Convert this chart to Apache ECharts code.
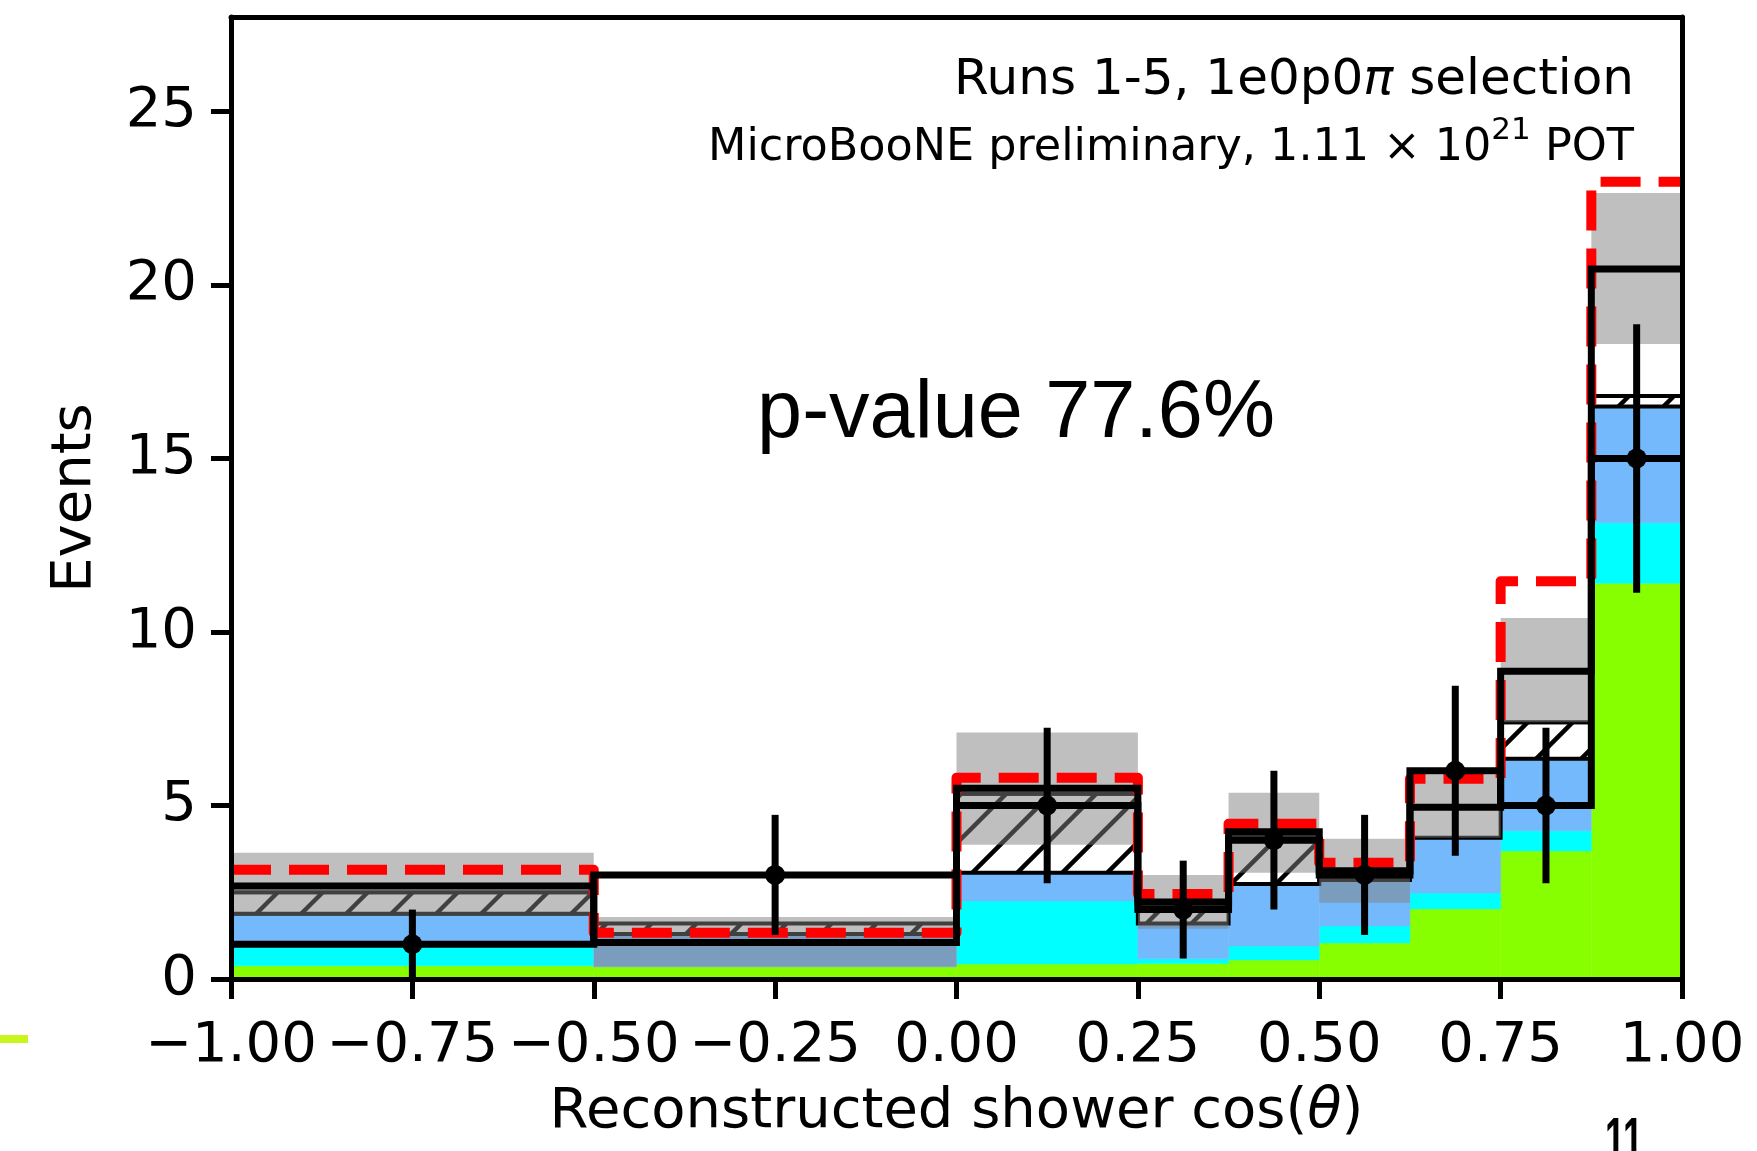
<!DOCTYPE html>
<html>
<head>
<meta charset="utf-8">
<script src="https://cdn.jsdelivr.net/npm/echarts@6/dist/echarts.min.js"></script>
<style>
  html, body { margin: 0; padding: 0; background: #fff; }
  #chart { width: 1757px; height: 1151px; }
</style>
</head>
<body>
<div id="chart"></div>
<script>
// Bin edges of the reconstructed shower cos(theta) histogram
const binEdges = [-1, -0.5, 0, 0.25, 0.375, 0.5, 0.625, 0.75, 0.875, 1];
const binCenters = [-0.75, -0.25, 0.125, 0.3125, 0.4375, 0.5625, 0.6875, 0.8125, 0.9375];

// Stacked prediction components (per-bin heights)
const compGreen = [0.38, 0.35, 0.43, 0.45, 0.55, 1.04, 2.02, 3.69, 11.40];
const compCyan  = [0.67, 0.00, 1.82, 0.13, 0.40, 0.49, 0.46, 0.58, 1.75];
const compBlue  = [0.83, 0.95, 0.81, 1.02, 1.79, 1.32, 1.59, 2.08, 3.35];
const compHatch = [0.62, 0.30, 2.28, 0.50, 1.39, 0.25, 0.00, 1.05, 0.30];
const compPlain = [0.18, 0.00, 0.16, 0.12, 0.11, 0.00, 0.88, 1.47, 0.00];

// Total prediction with its uncertainty band
const predTotal = [2.68, 1.05, 5.50, 2.22, 4.24, 3.12, 4.95, 8.87, 20.46];
const bandLow   = [1.82, 0.35, 3.87, 1.45, 3.06, 2.20, 4.07, 7.40, 18.30];
const bandHigh  = [3.64, 1.79, 7.10, 3.00, 5.37, 4.04, 5.90, 10.40, 22.65];

// Alternative prediction (red dashed)
const altPred = [3.15, 1.33, 5.80, 2.45, 4.47, 3.35, 5.77, 11.46, 22.97];

// Observed events and their errors
const dataCounts = [1, 3, 5, 2, 4, 3, 6, 5, 15];
const dataErr    = [1.00, 1.73, 2.24, 1.41, 2.00, 1.73, 2.45, 2.24, 3.87];

const xTicks = [-1, -0.75, -0.5, -0.25, 0, 0.25, 0.5, 0.75, 1];
const yTicks = [0, 5, 10, 15, 20, 25];
const yMax = 27.72;

const FONT = '"DejaVu Sans", "Liberation Sans", sans-serif';

function stepData(vals) {
  const pts = vals.map((v, i) => [binEdges[i], v]);
  pts.push([binEdges[binEdges.length - 1], vals[vals.length - 1]]);
  return pts;
}

// Build stacked rectangles [x0, x1, y0, y1]
const layers = [
  { vals: compGreen, kind: 'solid', fill: '#88ff00' },
  { vals: compCyan,  kind: 'solid', fill: '#00ffff' },
  { vals: compBlue,  kind: 'solid', fill: '#74b9fb' },
  { vals: compHatch, kind: 'hatch' },
  { vals: compPlain, kind: 'outline' }
];
const base = binCenters.map(() => 0);
const layerRects = layers.map(layer => {
  const rects = [];
  layer.vals.forEach((v, i) => {
    if (v > 0) rects.push([binEdges[i], binEdges[i + 1], base[i], base[i] + v]);
    base[i] += v;
  });
  return rects;
});

function rectFromApi(api) {
  const a = api.coord([api.value(0), api.value(3)]);
  const b = api.coord([api.value(1), api.value(2)]);
  return { x: a[0], y: a[1], width: b[0] - a[0], height: b[1] - a[1] };
}

const HATCH_STEP = 45;
function hatchLines(r) {
  const x0 = r.x, x1 = r.x + r.width, yT = r.y, yB = r.y + r.height;
  const out = [];
  let k = Math.ceil((x0 + yT) / HATCH_STEP) * HATCH_STEP;
  for (; k <= x1 + yB; k += HATCH_STEP) {
    const xs = Math.max(x0, k - yB), xe = Math.min(x1, k - yT);
    if (xe > xs) {
      out.push({
        type: 'line',
        shape: { x1: xs, y1: k - xs, x2: xe, y2: k - xe },
        style: { stroke: '#000', lineWidth: 4.5 }
      });
    }
  }
  return out;
}

const series = [];
layers.forEach((layer, li) => {
  series.push({
    type: 'custom',
    z: 2 + li * 0.1,
    data: layerRects[li],
    encode: { x: [0, 1], y: [2, 3] },
    renderItem: (params, api) => {
      const r = rectFromApi(api);
      if (layer.kind === 'solid') {
        return { type: 'rect', shape: r, style: { fill: layer.fill, stroke: layer.fill, lineWidth: 0.5 } };
      }
      const children = [{ type: 'rect', shape: r, style: { fill: '#fff' } }];
      if (layer.kind === 'hatch') children.push(...hatchLines(r));
      children.push({ type: 'rect', shape: r, style: { fill: 'none', stroke: '#000', lineWidth: 4 } });
      return { type: 'group', children };
    },
    silent: true
  });
});

// Uncertainty band on the total prediction
series.push({
  type: 'custom',
  z: 4,
  data: bandLow.map((lo, i) => [binEdges[i], binEdges[i + 1], lo, bandHigh[i]]),
  encode: { x: [0, 1], y: [2, 3] },
  renderItem: (params, api) => ({
    type: 'rect', shape: rectFromApi(api), style: { fill: 'rgba(128,128,128,0.5)' }
  }),
  silent: true
});

// Red dashed alternative prediction
series.push({
  type: 'line', step: 'end', z: 5, symbol: 'none', silent: true,
  data: stepData(altPred),
  lineStyle: { color: '#ff0000', width: 10, type: [40, 18], cap: 'butt', join: 'round' }
});

// Total prediction (black step)
series.push({
  type: 'line', step: 'end', z: 6, symbol: 'none', silent: true,
  data: stepData(predTotal),
  lineStyle: { color: '#000', width: 7, join: 'miter' }
});

// Data as a step outline
series.push({
  type: 'line', step: 'end', z: 6, symbol: 'none', silent: true,
  data: stepData(dataCounts),
  lineStyle: { color: '#000', width: 7, join: 'miter' }
});

// Data points with error bars
series.push({
  type: 'custom', z: 7, silent: true,
  data: dataCounts.map((n, i) => [binCenters[i], n, n - dataErr[i], n + dataErr[i]]),
  encode: { x: 0, y: [1, 2, 3] },
  renderItem: (params, api) => {
    const c = api.coord([api.value(0), api.value(1)]);
    const lo = api.coord([api.value(0), api.value(2)]);
    const hi = api.coord([api.value(0), api.value(3)]);
    return {
      type: 'group',
      children: [
        { type: 'line', shape: { x1: lo[0], y1: lo[1], x2: hi[0], y2: hi[1] }, style: { stroke: '#000', lineWidth: 7 } },
        { type: 'circle', shape: { cx: c[0], cy: c[1], r: 10 }, style: { fill: '#000' } }
      ]
    };
  }
});

const chart = echarts.init(document.getElementById('chart'), null, { renderer: 'canvas' });
chart.setOption({
  animation: false,
  backgroundColor: '#fff',
  grid: { left: 231, top: 17, width: 1451, height: 962, containLabel: false, outerBoundsMode: 'none' },
  xAxis: [
    {
      type: 'value', min: -1, max: 1, interval: 0.25, z: 10,
      name: 'Reconstructed shower cos({i|θ})',
      nameLocation: 'middle', nameGap: 105,
      nameTextStyle: {
        fontFamily: FONT, fontSize: 56, color: '#000',
        rich: { i: { fontFamily: FONT, fontSize: 56, fontStyle: 'italic', color: '#000' } }
      },
      axisLine: { show: true, onZero: false, lineStyle: { color: '#000', width: 5 } },
      axisTick: { show: true, inside: false, length: 20, lineStyle: { color: '#000', width: 5 } },
      axisLabel: {
        show: true, margin: 39, fontFamily: FONT, fontSize: 56, color: '#000',
        customValues: xTicks,
        formatter: v => (v < 0 ? '\u2212' : '') + Math.abs(v).toFixed(2)
      },
      splitLine: { show: false }
    },
    {
      type: 'value', position: 'top', min: -1, max: 1, z: 10,
      axisLine: { show: true, onZero: false, lineStyle: { color: '#000', width: 5 } },
      axisTick: { show: false }, axisLabel: { show: false }, splitLine: { show: false }
    }
  ],
  yAxis: [
    {
      type: 'value', min: 0, max: yMax, z: 10,
      name: 'Events', nameLocation: 'middle', nameGap: 128, nameRotate: 90,
      nameTextStyle: { fontFamily: FONT, fontSize: 56, color: '#000' },
      axisLine: { show: true, onZero: false, lineStyle: { color: '#000', width: 5 } },
      axisTick: { show: true, inside: false, length: 20, customValues: yTicks, lineStyle: { color: '#000', width: 5 } },
      axisLabel: { show: true, margin: 34, fontFamily: FONT, fontSize: 56, color: '#000', customValues: yTicks },
      splitLine: { show: false }
    },
    {
      type: 'value', position: 'right', min: 0, max: yMax, z: 10,
      axisLine: { show: true, onZero: false, lineStyle: { color: '#000', width: 5 } },
      axisTick: { show: false }, axisLabel: { show: false }, splitLine: { show: false }
    }
  ],
  graphic: [
    {
      type: 'text', x: 1634, y: 81, z: 20,
      style: {
        text: '{a|Runs 1-5, 1e0p0}{p|π}{a| selection}',
        textAlign: 'right', align: 'right', textVerticalAlign: 'middle', verticalAlign: 'middle',
        rich: {
          a: { fontFamily: FONT, fontSize: 50, fill: '#000', color: '#000' },
          p: { fontFamily: FONT, fontSize: 50, fontStyle: 'italic', fill: '#000', color: '#000' }
        }
      }
    },
    {
      type: 'text', x: 1634, y: 143, z: 20,
      style: {
        text: '{a|MicroBooNE preliminary, 1.11 × 10}{s|21}{a| POT}',
        textAlign: 'right', align: 'right', textVerticalAlign: 'middle', verticalAlign: 'middle',
        rich: {
          a: { fontFamily: FONT, fontSize: 44.5, lineHeight: 56, verticalAlign: 'bottom', fill: '#000', color: '#000' },
          s: { fontFamily: FONT, fontSize: 31, lineHeight: 56, verticalAlign: 'top', fill: '#000', color: '#000' }
        }
      }
    },
    {
      type: 'text', x: 1016, y: 415, z: 20,
      style: {
        text: 'p-value 77.6%',
        font: '81px "Liberation Sans", Arial, sans-serif',
        fill: '#000', textAlign: 'center', align: 'center', textVerticalAlign: 'middle', verticalAlign: 'middle'
      }
    },
    {
      type: 'text', x: 1624, y: 1143, z: 20, scaleX: 0.58,
      style: {
        text: '11',
        font: 'bold 62px "Liberation Sans", Arial, sans-serif',
        fill: '#000', textAlign: 'center', align: 'center', textVerticalAlign: 'middle', verticalAlign: 'middle'
      }
    },
    {
      type: 'rect', x: 0, y: 1035, z: 20,
      shape: { x: 0, y: 0, width: 28, height: 8 },
      style: { fill: '#c8f51e' }
    }
  ],
  series
});
</script>
</body>
</html>
